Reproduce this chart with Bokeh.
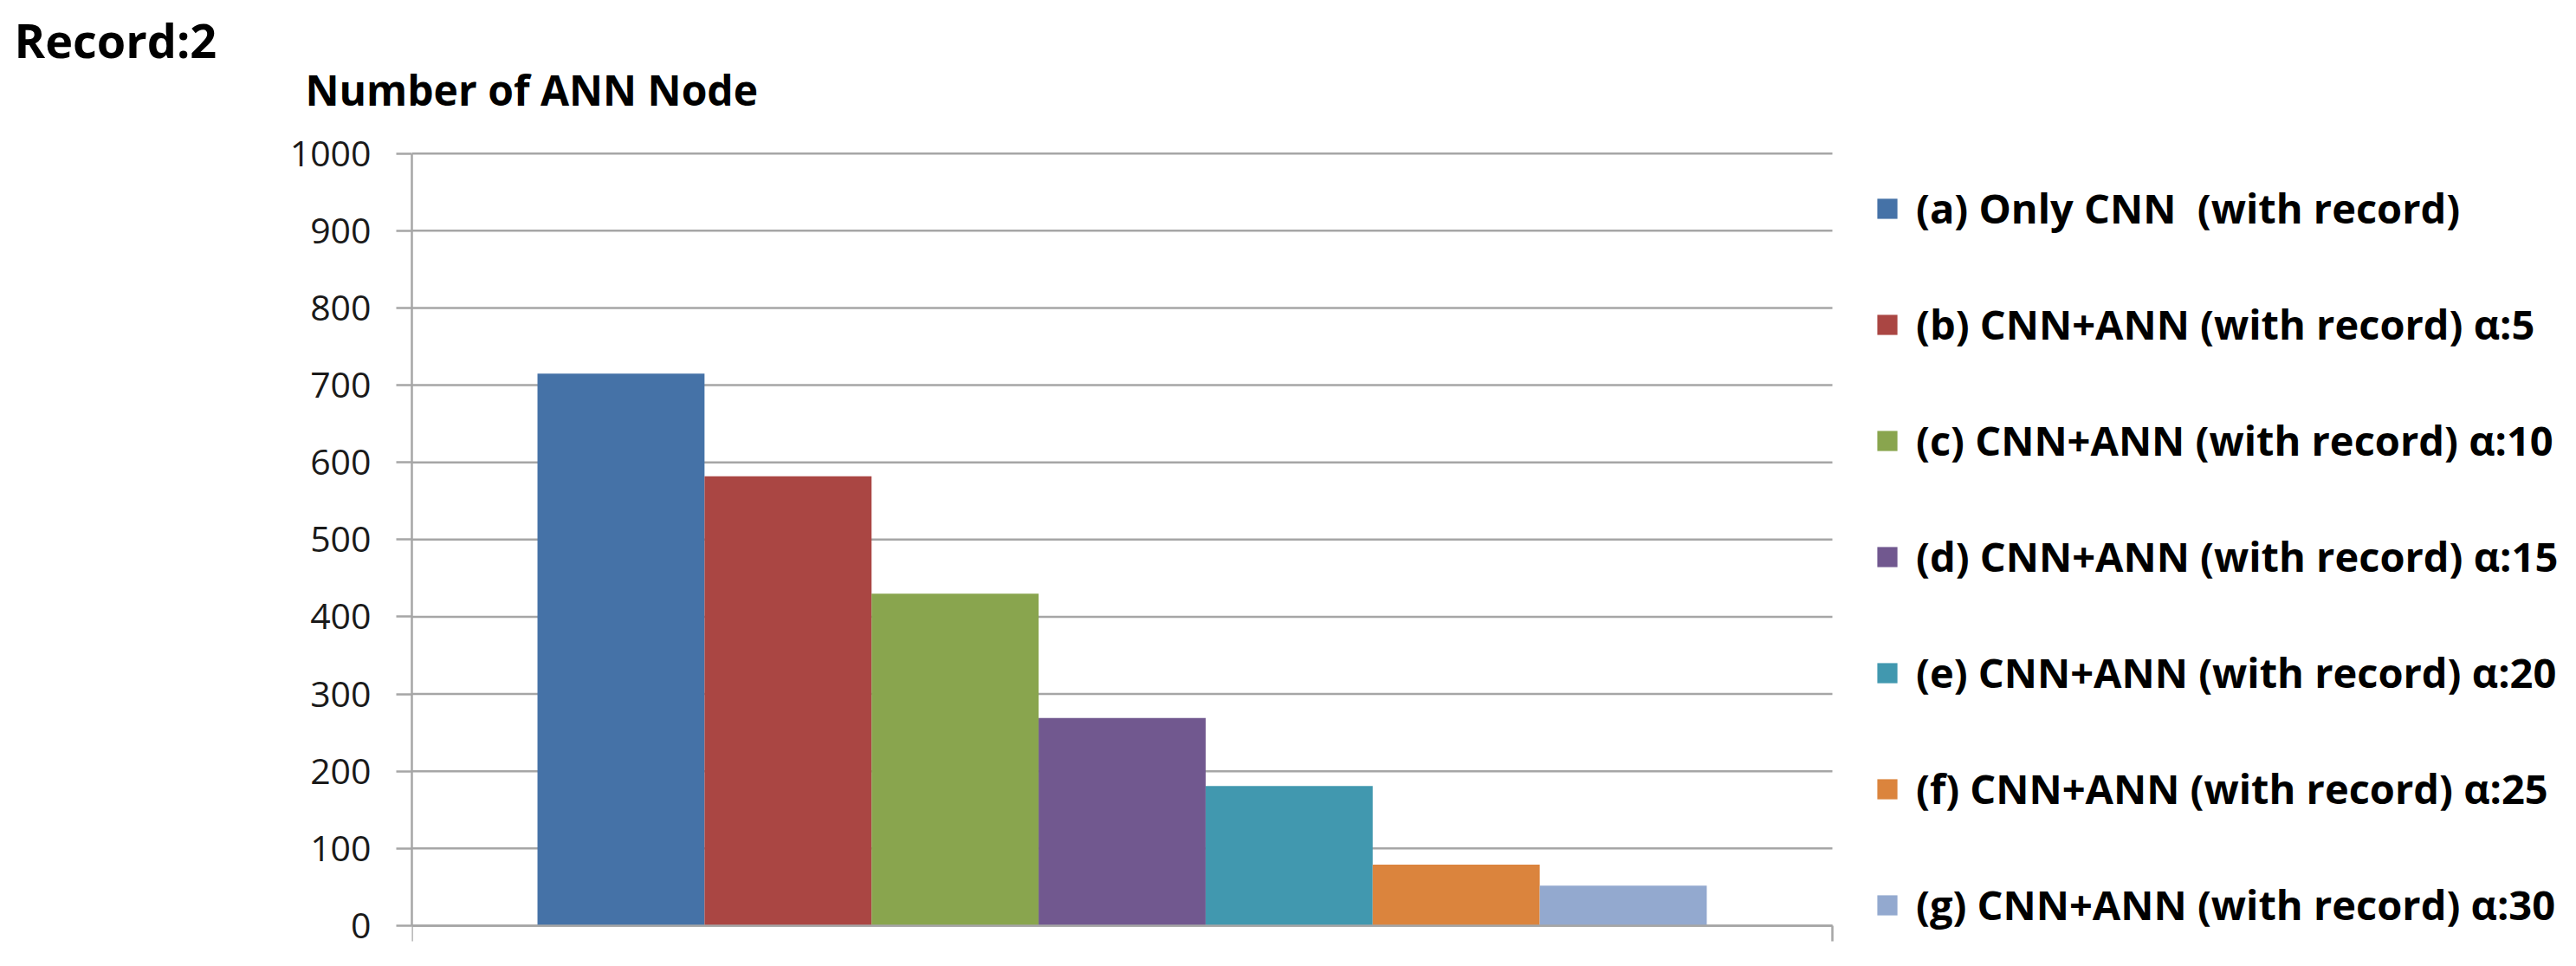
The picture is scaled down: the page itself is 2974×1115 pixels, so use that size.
from bokeh.plotting import figure
from bokeh.models import Range1d, Legend, LegendItem, FixedTicker, ColumnDataSource, Title
from bokeh.embed import file_html
from bokeh.resources import INLINE

# ---- data ----
chart_title = "Record:2"
y_title = "Number of ANN Node"
series_names = [
    "(a) Only CNN  (with record)",
    "(b) CNN+ANN (with record) α:5",
    "(c) CNN+ANN (with record) α:10",
    "(d) CNN+ANN (with record) α:15",
    "(e) CNN+ANN (with record) α:20",
    "(f) CNN+ANN (with record) α:25",
    "(g) CNN+ANN (with record) α:30",
]
values = [715, 582, 430, 269, 181, 79, 52]
colors = ["#4572A7", "#AA4643", "#89A54E", "#71588F", "#4198AF", "#DB843D", "#93A9CF"]
y_ticks = [0, 100, 200, 300, 400, 500, 600, 700, 800, 900, 1000]

# ---- layout (page px) ----
W, H = 2966, 1107
FL, FR = 475, 2115            # bar-area left / right edge
FT = 175                      # frame top
Y0PX, Y1000PX = 1068, 176.7   # pixel rows of y=0 and y=1000
FBF = 1090                    # frame bottom (a little below y=0)
FONT = "Open Sans"
grid_col = "#A6A6A6"

pad = 0.752
x0, x1 = -0.5 - pad, len(values) - 0.5 + pad
x_end = x0 + (W - FL) / (FR - FL) * (x1 - x0)
ppu = (Y0PX - Y1000PX) / 1000.0
y0 = -(FBF - Y0PX) / ppu
y1 = 1000 + (Y1000PX - FT) / ppu

p = figure(width=W, height=H, output_backend="svg", toolbar_location=None,
           x_range=Range1d(x0, x_end), y_range=Range1d(y0, y1),
           min_border_left=FL, min_border_right=0,
           min_border_top=FT, min_border_bottom=H - FBF,
           x_axis_location="below", y_axis_location="left")
p.outline_line_color = None
p.background_fill_color = "white"
p.border_fill_color = "white"
p.xgrid.visible = False
p.ygrid.visible = False

# titles in the top panel (stacked upward from the frame)
p.add_layout(Title(text=y_title, align="left", offset=352 - FL, standoff=80,
                   vertical_align="bottom", text_font=FONT, text_font_style="bold",
                   text_font_size="48px", text_color="black"), "above")
p.add_layout(Title(text=chart_title, align="left", offset=16 - FL, standoff=-108,
                   vertical_align="bottom", text_font=FONT, text_font_style="bold",
                   text_font_size="54px", text_color="black"), "above")

# horizontal gridlines across the bar area, one per y tick
p.segment(x0=[x0] * len(y_ticks), x1=[x1] * len(y_ticks), y0=y_ticks, y1=y_ticks,
          line_color=grid_col, line_width=2.5)

renderers = []
for i, (name, v, c) in enumerate(zip(series_names, values, colors)):
    src = ColumnDataSource(dict(x=[i], top=[v]))
    r = p.vbar(x="x", top="top", bottom=0, width=1.0, source=src,
               fill_color=c, line_color=None)
    renderers.append((name, r))

p.yaxis.ticker = FixedTicker(ticks=y_ticks)
p.yaxis.bounds = (0, 1000)
p.yaxis.minor_tick_line_color = None
p.yaxis.major_tick_in = 0
p.yaxis.major_tick_out = 18
p.yaxis.major_tick_line_color = grid_col
p.yaxis.major_tick_line_width = 2.5
p.yaxis.axis_line_color = grid_col
p.yaxis.axis_line_width = 2.5
p.yaxis.major_label_standoff = 29
p.yaxis.major_label_text_font = FONT
p.yaxis.major_label_text_font_size = "41px"
p.yaxis.major_label_text_color = "#1a1a1a"

p.xaxis.fixed_location = 0
p.xaxis.ticker = FixedTicker(ticks=[x0, x1])
p.xaxis.bounds = (x0, x1)
p.xaxis.minor_tick_line_color = None
p.xaxis.major_tick_in = 0
p.xaxis.major_tick_out = 18
p.xaxis.major_tick_line_color = grid_col
p.xaxis.major_tick_line_width = 2.5
p.xaxis.axis_line_color = grid_col
p.xaxis.axis_line_width = 2.5
p.xaxis.major_label_text_color = None
p.xaxis.major_label_text_font_size = "10px"
p.xaxis.major_label_standoff = 0

# legend inside the (wide) frame, right of the bar area
item_h, spacing, first_c = 80, 54, 240
leg_h = 7 * item_h + 6 * spacing
leg_bottom = first_c - item_h // 2 + leg_h
legend = Legend(items=[LegendItem(label=n, renderers=[r]) for n, r in renderers],
                location=(2164 - FL, FBF - leg_bottom), orientation="vertical",
                glyph_width=29, glyph_height=29, label_standoff=19,
                label_height=item_h, spacing=spacing, padding=0, margin=0,
                border_line_color=None, background_fill_alpha=0,
                label_text_font=FONT, label_text_font_style="bold",
                label_text_font_size="47px", label_text_color="black")
p.add_layout(legend, "center")

open("out.html", "w").write(file_html(p, INLINE))
